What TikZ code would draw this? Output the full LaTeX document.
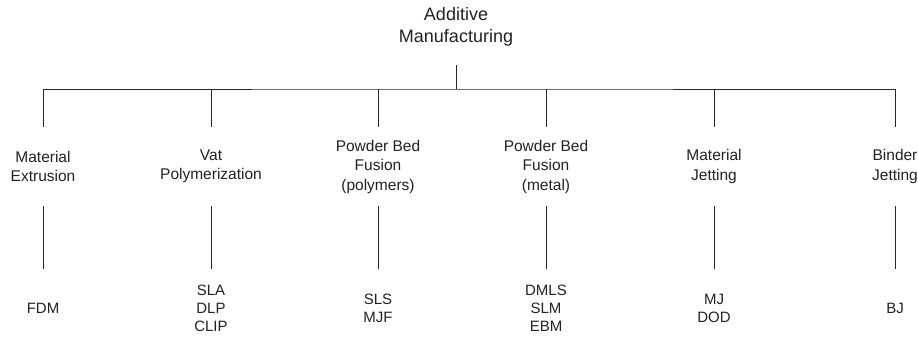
\documentclass[tikz,border=0pt]{standalone}
\usepackage{fontspec}
\setmainfont{Liberation Sans}
\definecolor{txt}{HTML}{222222}
\definecolor{ln}{HTML}{262626}
\begin{document}
\begin{tikzpicture}[x=1pt,y=1pt,
  titlebox/.style={inner sep=0pt,minimum width=140pt,minimum height=76pt,align=center,text=txt,
    font=\fontsize{18}{22}\selectfont},
  catbox/.style={inner sep=0pt,minimum width=120pt,minimum height=79pt,align=center,text=txt,
    font=\fontsize{15.5}{19.5}\selectfont},
  techbox/.style={inner sep=0pt,minimum width=80pt,minimum height=79pt,align=center,text=txt,
    font=\fontsize{15}{18}\selectfont},
  conn/.style={draw=ln,line width=1pt}]
\useasboundingbox (0,0) rectangle (918,-338);
\node[titlebox] (am) at (456,-27) {Additive\\Manufacturing};
\coordinate (bus) at (456,-89);
\node[catbox] (m1) at (43,-166.5) {Material\\Extrusion};
\node[catbox] (m2) at (211,-166.5) {Vat\\Polymerization};
\node[catbox] (m3) at (378,-166.5) {Powder Bed\\Fusion\\(polymers)};
\node[catbox] (m4) at (546,-166.5) {Powder Bed\\Fusion\\(metal)};
\node[catbox] (m5) at (714,-166.5) {Material\\Jetting};
\node[catbox] (m6) at (895,-166.5) {Binder\\Jetting};
\node[techbox] (b1) at (43,-308.5) {FDM};
\node[techbox] (b2) at (211,-308.5) {SLA\\DLP\\CLIP};
\node[techbox] (b3) at (378,-308.5) {SLS\\MJF};
\node[techbox] (b4) at (546,-308.5) {DMLS\\SLM\\EBM};
\node[techbox] (b5) at (714,-308.5) {MJ\\DOD};
\node[techbox] (b6) at (895,-308.5) {BJ};
\draw[conn] (am.south) -- (bus);
\draw[conn] (m1.north) |- (bus) -| (m6.north);
\foreach \i in {2,3,4,5} {\draw[conn] (m\i.north) -- (m\i.north |- bus);}
\foreach \i in {1,...,6} {\draw[conn] (m\i.south) -- (b\i.north);}
\end{tikzpicture}
\end{document}
